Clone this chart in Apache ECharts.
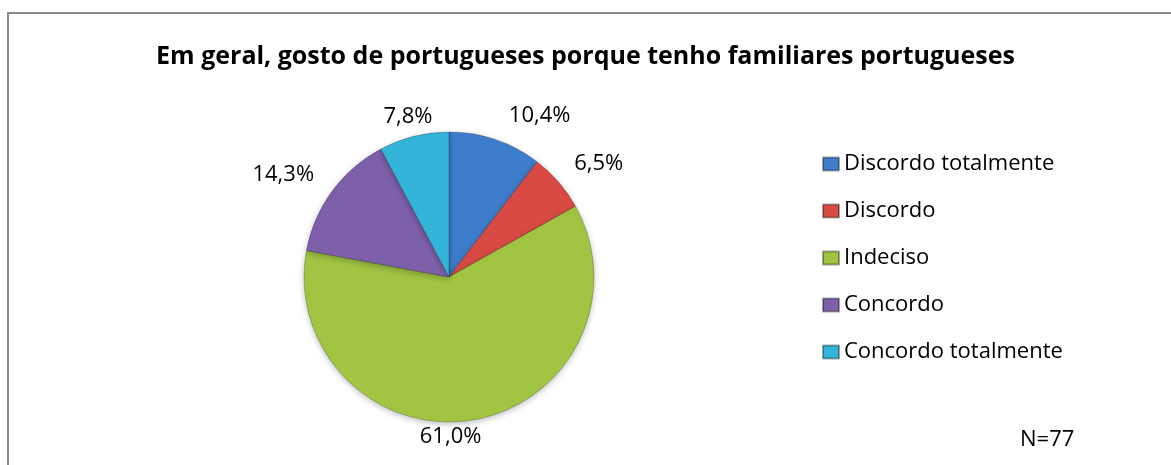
<!DOCTYPE html>
<html>
<head>
<meta charset="utf-8">
<script src="https://cdn.jsdelivr.net/npm/echarts@6/dist/echarts.min.js"></script>
<style>
html,body{margin:0;padding:0;background:#fff;}
#c{width:1171px;height:465px;}
</style>
</head>
<body>
<div id="c"></div>
<script>
const categories = ['Discordo totalmente', 'Discordo', 'Indeciso', 'Concordo', 'Concordo totalmente'];
const counts = [8, 5, 47, 11, 6];
const colors = ['#3E7DCB', '#D94A44', '#A1C443', '#7E5FA9', '#33B5DA'];
const titleText = 'Em geral, gosto de portugueses porque tenho familiares portugueses';
const noteText = 'N=77';

// label fine-tuning (style only)
const labelOffsets = [[0, 1], [-9, -1], [-62, -9], [8, -1], [30, 6]];

const FONT = '"Open Sans", sans-serif';
const chart = echarts.init(document.getElementById('c'), null, {renderer: 'canvas'});
chart.setOption({
  animation: false,
  backgroundColor: '#fff',
  title: {
    text: titleText,
    left: 'center',
    top: 44,
    padding: 0,
    textStyle: {fontFamily: FONT, fontWeight: 'bold', fontSize: 25, color: '#000'}
  },
  legend: {
    orient: 'vertical',
    left: 822,
    top: 153,
    padding: 0,
    itemWidth: 16,
    itemHeight: 13,
    itemGap: 25,
    icon: 'rect',
    textStyle: {fontFamily: FONT, fontSize: 22, color: '#000'},
    data: categories
  },
  graphic: [
    {type: 'rect', shape: {x: 8, y: 13, width: 1300, height: 600}, style: {fill: 'none', stroke: '#8a8a8a', lineWidth: 2}, silent: true},
    {type: 'text', left: 1020, top: 429, style: {text: noteText, font: '22px ' + FONT, fill: '#000'}}
  ],
  series: [{
    type: 'pie',
    center: [449, 277],
    radius: 145,
    startAngle: 90,
    clockwise: true,
    avoidLabelOverlap: false,
    itemStyle: {borderColor: 'rgba(0,0,0,0.35)', borderWidth: 0.6, shadowBlur: 6, shadowOffsetY: 2, shadowColor: 'rgba(0,0,0,0.25)'},
    label: {
      show: true,
      position: 'outside',
      fontFamily: FONT,
      fontSize: 22,
      color: '#000',
      formatter: function (p) { return p.percent.toFixed(1).replace('.', ',') + '%'; }
    },
    labelLine: {show: false, length: 26, length2: 0},
    emphasis: {disabled: true},
    data: categories.map(function (c, i) {
      return {name: c, value: counts[i], itemStyle: {color: colors[i]}, label: {offset: labelOffsets[i]}};
    })
  }]
});
</script>
</body>
</html>
